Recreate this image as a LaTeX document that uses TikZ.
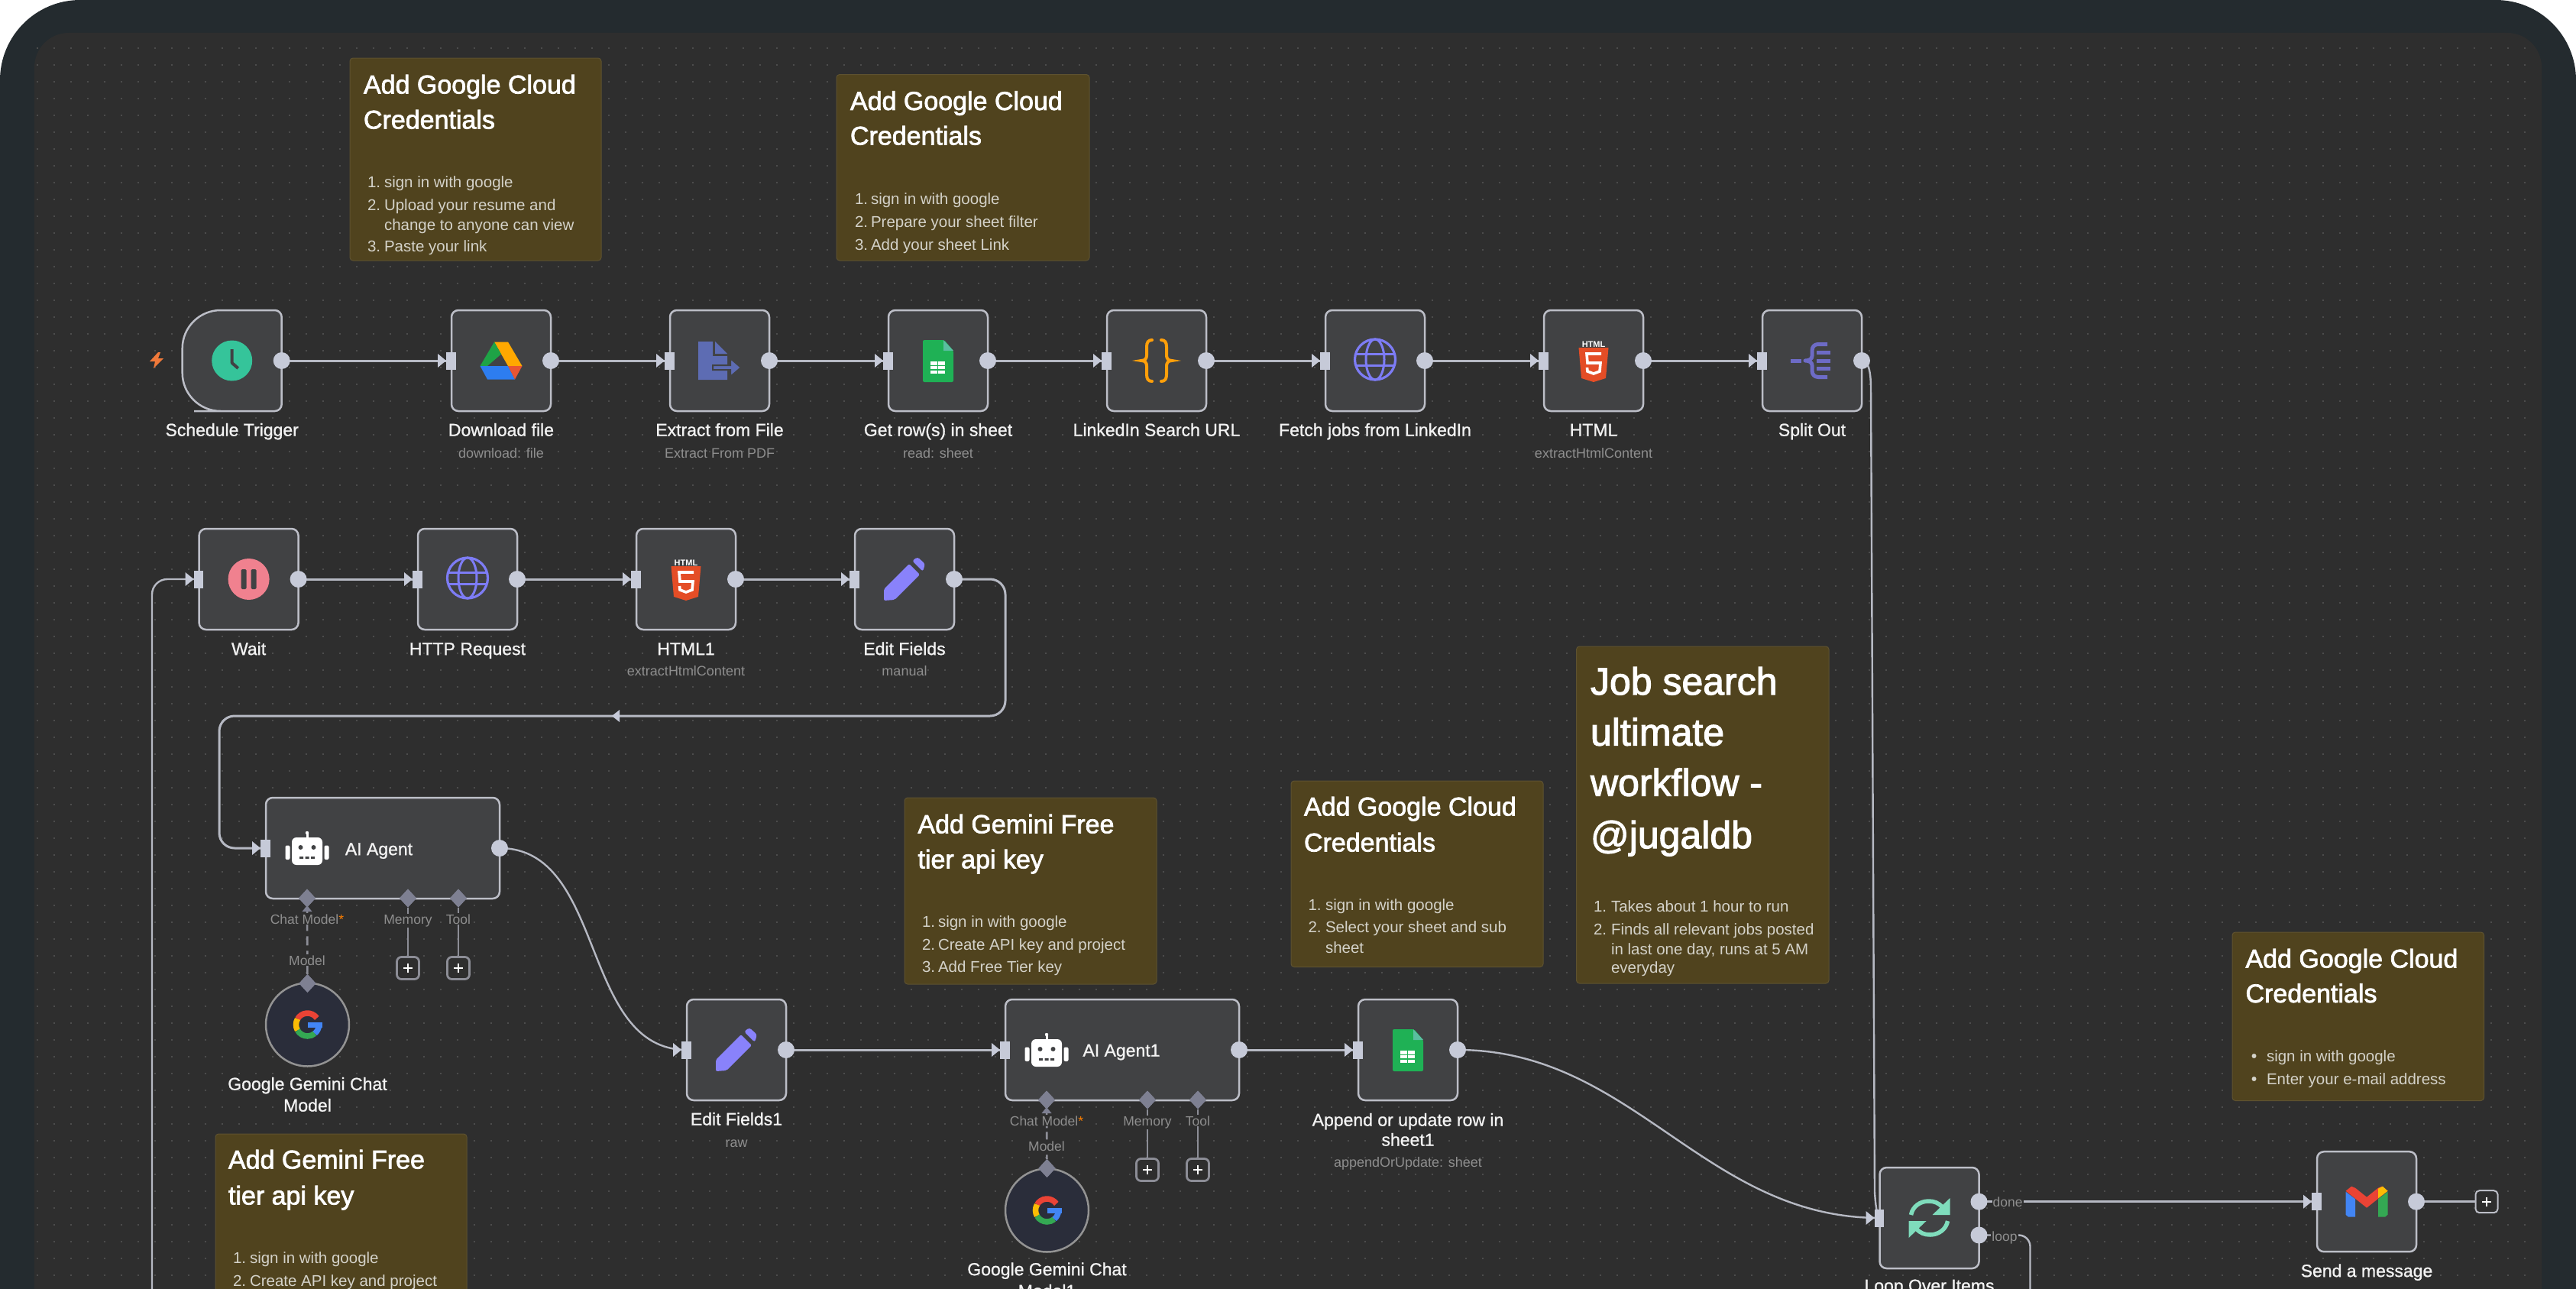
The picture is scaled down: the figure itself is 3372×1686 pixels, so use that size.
\documentclass[tikz,border=0pt]{standalone}
\usepackage{fontspec}
\setmainfont{Liberation Sans}
\newfontfamily\medfont[FakeBold=2.2]{Liberation Sans}
\newfontfamily\labfont[FakeBold=1.0]{Liberation Sans}
\usetikzlibrary{calc,shapes.geometric}
\definecolor{bandc}{HTML}{242B2F}
\definecolor{canvasc}{HTML}{2E2E2E}
\definecolor{dotc}{HTML}{4C4C4C}
\definecolor{nodefillc}{HTML}{414244}
\definecolor{nodelinec}{HTML}{BCBEC7}
\definecolor{portc}{HTML}{C6CAD8}
\definecolor{connc}{HTML}{B6B9C3}
\definecolor{stickyc}{HTML}{50431E}
\definecolor{labc}{HTML}{F2F2F2}
\definecolor{subc}{HTML}{8E8E8E}
\definecolor{itemc}{HTML}{D4D2C9}
\definecolor{diac}{HTML}{7E8092}
\definecolor{sublinec}{HTML}{8C8D96}
\definecolor{globec}{HTML}{7D7CF5}
\definecolor{pencilc}{HTML}{8982FB}
\definecolor{modelc}{HTML}{2A2D3A}
\definecolor{gred}{HTML}{EA4335}
\definecolor{ggreen}{HTML}{34A853}
\definecolor{gblue}{HTML}{4285F4}
\definecolor{gyellow}{HTML}{FBBC04}
\definecolor{clockc}{RGB}{53,196,154}
\definecolor{drivey}{RGB}{255,168,0}
\definecolor{driveg}{RGB}{30,163,70}
\definecolor{driveb}{RGB}{45,125,240}
\definecolor{driver}{RGB}{233,85,50}
\definecolor{extractc}{RGB}{93,108,179}
\definecolor{sheetc}{RGB}{31,177,85}
\definecolor{foldc}{RGB}{90,190,160}
\definecolor{bracec}{RGB}{255,159,10}
\definecolor{htmlc}{RGB}{228,77,38}
\definecolor{splitc}{RGB}{109,107,198}
\definecolor{waitc}{RGB}{240,129,143}
\definecolor{loopc}{RGB}{127,220,188}
\definecolor{boltc}{RGB}{240,121,58}
\newcounter{txn}
\newcommand{\tx}[4][]{\stepcounter{txn}\node[txt,#1] (tx\arabic{txn}) at (#2,#3) {#4};}
\tikzset{
 txt/.style={inner sep=0pt,outer sep=0pt,anchor=mid},
 lab/.style={font=\labfont\fontsize{23}{27}\selectfont,text=labc,yshift=-6pt},
 sublab/.style={font=\fontsize{18}{22}\selectfont,text=subc,yshift=-4.7pt},
 ptlab/.style={font=\fontsize{17.5}{21}\selectfont,text=subc,yshift=-4.5pt,fill=canvasc,inner sep=1pt},
 stt/.style={font=\medfont\fontsize{34}{40}\selectfont,text=white,anchor=mid west,yshift=-8.8pt},
 sjob/.style={font=\medfont\fontsize{50}{56}\selectfont,text=white,anchor=mid west,yshift=-13pt},
 sti/.style={font=\fontsize{20.5}{24}\selectfont,text=itemc,anchor=mid west,yshift=-5.3pt},
 wfbox/.style={draw=nodelinec,fill=nodefillc,line width=2.5pt,rounded corners=9pt,minimum width=130pt,minimum height=132pt,inner sep=0pt,outer sep=0pt},
 wfwide/.style={wfbox,minimum width=306pt},
 ghost/.style={draw=none,fill=none,minimum width=130pt,minimum height=132pt,inner sep=0pt,outer sep=0pt},
 model/.style={circle,draw=gray!85,fill=modelc,line width=2.5pt,minimum size=109pt,inner sep=0pt,outer sep=0pt},
 stickybox/.style={fill=stickyc,draw=stickyc!92!white,line width=1pt,rounded corners=4pt},
 conn/.style={draw=connc,line width=3pt},
 thinconn/.style={draw=connc,line width=2.4pt},
 subconn/.style={draw=sublinec,line width=2.6pt},
 dia/.style={diamond,fill=diac,minimum width=22pt,minimum height=24pt,inner sep=0pt,outer sep=0pt},
 plusbox/.style={draw=nodelinec,line width=2pt,fill=canvasc,rounded corners=5pt,minimum size=29pt,inner sep=0pt,outer sep=0pt},
 subplus/.style={plusbox,draw=sublinec,line width=2.8pt,rounded corners=6pt},
 port/.style={fill=portc},
}
\newcommand{\sticky}[4]{\fill[stickybox] (#1,#2) rectangle (#3,#4);}
\newcommand{\plusmark}[1]{\draw[white,line width=2pt] ($(#1)+(-6,0)$) -- +(12,0) ($(#1)+(0,-6)$) -- +(0,12);}
\newcommand{\icClock}[2]{\begin{scope}[shift={(#1,#2)}]\fill[clockc] circle[radius=26.5];\draw[nodefillc,line width=4pt,line join=round] (0,-15) -- (0,3) -- (8,10);\end{scope}}
\newcommand{\icDrive}[2]{\begin{scope}[shift={(#1,#2)}]
 \fill[drivey] (-9,-24.5) -- (9,-24.5) -- (27.5,7) -- (9,7) -- cycle;
 \fill[driveg] (-9,-24.5) -- (0,-8.5) -- (-18,7) -- (-27.5,7) -- cycle;
 \fill[driveb] (-27.5,7) -- (9,7) -- (18,24.5) -- (-18,24.5) -- cycle;
 \fill[driver] (9,7) -- (27.5,7) -- (18,24.5) -- cycle;
 \end{scope}}
\newcommand{\icExtract}[2]{\begin{scope}[shift={(#1,#2)}]
 \fill[extractc] (-28,-25) -- (-9,-25) -- (-9,-6) -- (10,-6) -- (10,25) -- (-28,25) -- cycle;
 \fill[extractc] (-6,-25) -- (10,-9) -- (-6,-9) -- cycle;
 \draw[fill=extractc,draw=nodefillc,line width=2pt] (-9,6) -- (14,6) -- (14,-3) -- (28,9) -- (14,21) -- (14,12) -- (-9,12) -- cycle;
 \end{scope}}
\newcommand{\icSheet}[2]{\begin{scope}[shift={(#1,#2)}]
 \fill[sheetc,rounded corners=2pt] (-20,-27) -- (8,-27) -- (20,-13) -- (20,28) -- (-20,28) -- cycle;
 \fill[foldc] (7,-27) -- (20,-13) -- (7,-13) -- cycle;
 \fill[white] (-10,1) rectangle (9,17);
 \draw[sheetc,line width=1.6pt] (-0.5,1) -- (-0.5,17) (-10,6.3) -- (9,6.3) (-10,11.7) -- (9,11.7);
 \end{scope}}
\newcommand{\bracepath}{(-6,-27) .. controls (-11,-27) and (-13,-24) .. (-13,-18) -- (-13,-7) .. controls (-13,-3) and (-15,0) .. (-20,0) .. controls (-15,0) and (-13,3) .. (-13,7) -- (-13,18) .. controls (-13,24) and (-11,27) .. (-6,27)}
\newcommand{\icBraces}[2]{\begin{scope}[shift={(#1,#2)}]
 \draw[bracec,line width=4pt,line cap=round] \bracepath;
 \begin{scope}[xscale=-1]\draw[bracec,line width=4pt,line cap=round] \bracepath;\end{scope}
 \end{scope}}
\newcommand{\icGlobe}[2]{\begin{scope}[shift={(#1,#2)}]
 \draw[globec,line width=3.2pt] (0,-1.5) circle[radius=26.5];
 \draw[globec,line width=3pt] (0,-1.5) ellipse[x radius=12,y radius=26.5];
 \draw[globec,line width=3pt] (-24,-9) -- (24,-9) (-24,6) -- (24,6);
 \end{scope}}
\newcommand{\icHtml}[2]{\begin{scope}[shift={(#1,#2)}]
 \tx[font=\bfseries\fontsize{11}{12}\selectfont,text=white,yshift=-2.8pt]{0}{-23}{HTML}
 \fill[htmlc] (-19.5,-17) -- (19.5,-17) -- (16,23) -- (0,28) -- (-16,23) -- cycle;
 \draw[white,line width=3.6pt] (10,-9) -- (-9,-9) -- (-8,3) -- (9,3) -- (8,14) -- (0,17) -- (-8,14) -- (-8.5,9);
 \end{scope}}
\newcommand{\icSplit}[2]{\begin{scope}[shift={(#1,#2)}]
 \draw[splitc,line width=5pt,line join=round] (20,-21.5) -- (8,-21.5) .. controls (3,-21.5) and (0,-18) .. (0,-13) -- (0,-6) .. controls (0,-2) and (-4,0) .. (-9,0) .. controls (-4,0) and (0,2) .. (0,6) -- (0,13) .. controls (0,18) and (3,21.5) .. (8,21.5) -- (20,21.5);
 \draw[splitc,line width=5pt] (-28,0) -- (-14,0) (6,-10.5) -- (24,-10.5) (6,0) -- (24,0) (6,10.5) -- (24,10.5);
 \end{scope}}
\newcommand{\icWait}[2]{\begin{scope}[shift={(#1,#2)}]
 \fill[waitc] circle[radius=27];
 \fill[nodefillc,rounded corners=1.5pt] (-10,-13) rectangle (-3,13) (3,-13) rectangle (10,13);
 \end{scope}}
\newcommand{\icPencil}[2]{\begin{scope}[shift={(#1,#2)}]
 \fill[pencilc,rounded corners=2pt] (-27,13) -- (6,-20) -- (20,-6) -- (-13,27) -- (-27,28) -- cycle;
 \fill[pencilc,rounded corners=3pt] (10,-24) -- (17,-29) -- (27,-20) -- (24,-10) -- cycle;
 \end{scope}}
\newcommand{\icRobot}[2]{\begin{scope}[shift={(#1,#2)}]
 \fill[white,rounded corners=6pt] (-20,-14) rectangle (20,22);
 \fill[white] (-1.5,-20) rectangle (1.5,-13);
 \fill[white] (0,-20) circle[radius=2.2];
 \fill[white,rounded corners=2pt] (-28.5,-3.5) rectangle (-22.5,15) (22.5,-3.5) rectangle (28.5,15);
 \fill[nodefillc] (-8.5,-1) circle[radius=3] (8.5,-1) circle[radius=3];
 \fill[nodefillc] (-10,11) rectangle (-5,14) (-2.5,11) rectangle (2.5,14) (5,11) rectangle (10,14);
 \end{scope}}
\newcommand{\icG}[2]{\begin{scope}[shift={(#1,#2)}]
 \draw[gred,line width=7.5pt] (-35:15) arc[start angle=-35,end angle=-150,radius=15];
 \draw[gyellow,line width=7.5pt] (-150:15) arc[start angle=-150,end angle=-210,radius=15];
 \draw[ggreen,line width=7.5pt] (150:15) arc[start angle=150,end angle=50,radius=15];
 \draw[gblue,line width=7.5pt] (50:15) arc[start angle=50,end angle=5,radius=15];
 \fill[gblue] (0,-3) rectangle (19,4);
 \end{scope}}
\newcommand{\icLoop}[2]{\begin{scope}[shift={(#1,#2)}]
 \foreach \r in {0,180}{\begin{scope}[rotate=\r]
 \draw[loopc,line width=5.5pt] (-24,-4) .. controls (-22,-15) and (-12,-22) .. (-1,-22) .. controls (6,-22) and (12,-20) .. (17,-14);
 \fill[loopc] (27,-26) -- (27,-4) -- (4,-4) -- cycle;
 \end{scope}}
 \end{scope}}
\newcommand{\icGmail}[2]{\begin{scope}[shift={(#1,#2)}]
 \fill[gred] (-27.5,-14) -- (-20,-20) -- (-15,-18) -- (0,-6) -- (15,-18) -- (20,-20) -- (27.5,-14) -- (0,8) -- cycle;
 \fill[gblue] (-27.5,-13) -- (-15,-3.5) -- (-15,20) -- (-24,20) -- (-27.5,17) -- cycle;
 \fill[ggreen] (27.5,-13) -- (15,-3.5) -- (15,20) -- (24,20) -- (27.5,17) -- cycle;
 \fill[gyellow] (15,-17) -- (21,-20) -- (27.5,-14) -- (15,-4.5) -- cycle;
 \end{scope}}
\begin{document}
\begin{tikzpicture}[x=1pt,y=-1pt]
\useasboundingbox (0,0) rectangle (3372,1686);
\clip (0,0) rectangle (3372,1686);
\fill[white] (0,0) rectangle (3372,1686);
\fill[bandc,rounded corners=105pt] (0,1900) -- (0,0) -- (3372,0) -- (3372,1900) -- cycle;
\fill[canvasc,rounded corners=45pt] (45,1900) -- (45,43) -- (3327,43) -- (3327,1900) -- cycle;
\foreach \k in {0,...,73}{
 \draw[dotc,line width=2.4pt,dash pattern=on 2.4pt off 19.6pt] (47.5,63+22*\k) -- (3322,63+22*\k);
}
% sticky notes
\sticky{458}{76}{787}{341}
\tx[stt]{476}{111}{Add Google Cloud}
\tx[stt]{476}{157}{Credentials}
\tx[sti]{481}{238}{1.}\tx[sti]{503}{238}{sign in with google}
\tx[sti]{481}{268}{2.}\tx[sti]{503}{268}{Upload your resume and}
\tx[sti]{503}{294}{change to anyone can view}
\tx[sti]{481}{321.5}{3.}\tx[sti]{503}{321.5}{Paste your link}
\sticky{1095}{97.5}{1426}{341}
\tx[stt]{1113}{132.5}{Add Google Cloud}
\tx[stt]{1113}{178}{Credentials}
\tx[sti]{1119}{260}{1.}\tx[sti]{1140}{260}{sign in with google}
\tx[sti]{1119}{289.5}{2.}\tx[sti]{1140}{289.5}{Prepare your sheet filter}
\tx[sti]{1119}{319.5}{3.}\tx[sti]{1140}{319.5}{Add your sheet Link}
\sticky{1184}{1044}{1514}{1288}
\tx[stt]{1201.5}{1079}{Add Gemini Free}
\tx[stt]{1201.5}{1125}{tier api key}
\tx[sti]{1207}{1206}{1.}\tx[sti]{1228}{1206}{sign in with google}
\tx[sti]{1207}{1236}{2.}\tx[sti]{1228}{1236}{Create API key and project}
\tx[sti]{1207}{1265}{3.}\tx[sti]{1228}{1265}{Add Free Tier key}
\sticky{1690}{1022}{2020}{1265.5}
\tx[stt]{1707}{1056}{Add Google Cloud}
\tx[stt]{1707}{1103}{Credentials}
\tx[sti]{1712.5}{1183.5}{1.}\tx[sti]{1735}{1183.5}{sign in with google}
\tx[sti]{1712.5}{1213}{2.}\tx[sti]{1735}{1213}{Select your sheet and sub}
\tx[sti]{1735}{1240}{sheet}
\sticky{2063.5}{846}{2394}{1287}
\tx[sjob]{2082}{893.5}{Job search}
\tx[sjob]{2082}{960}{ultimate}
\tx[sjob]{2082}{1026}{workflow -}
\tx[sjob]{2082}{1094.5}{@jugaldb}
\tx[sti]{2086}{1186}{1.}\tx[sti]{2109}{1186}{Takes about 1 hour to run}
\tx[sti]{2086}{1215.5}{2.}\tx[sti]{2109}{1215.5}{Finds all relevant jobs posted}
\tx[sti]{2109}{1241.5}{in last one day, runs at 5 AM}
\tx[sti]{2109}{1266}{everyday}
\sticky{2922}{1220}{3251.5}{1440.5}
\tx[stt]{2939.5}{1255}{Add Google Cloud}
\tx[stt]{2939.5}{1300.5}{Credentials}
\fill[itemc] (2950.5,1382) circle[radius=3] (2950.5,1412) circle[radius=3];
\tx[sti]{2967}{1382}{sign in with google}
\tx[sti]{2967}{1412}{Enter your e-mail address}
\sticky{282}{1484}{611}{1720}
\tx[stt]{299}{1518}{Add Gemini Free}
\tx[stt]{299}{1565}{tier api key}
\tx[sti]{305}{1646}{1.}\tx[sti]{327}{1646}{sign in with google}
\tx[sti]{305}{1676}{2.}\tx[sti]{327}{1676}{Create API key and project}
% trigger outline
\draw[draw=nodelinec,fill=nodefillc,line width=2.5pt] [rounded corners=50pt] (304,406) -- (238.7,406) -- (238.7,538) -- (304,538) [rounded corners=9pt] -- (368.7,538) -- (368.7,406) -- cycle;
% nodes
\node[ghost] (trig) at (303.7,472) {};
\node[wfbox] (dl) at (656,472) {};
\node[wfbox] (ext) at (942,472) {};
\node[wfbox] (rows) at (1228,472) {};
\node[wfbox] (lnk) at (1514,472) {};
\node[wfbox] (fetch) at (1800,472) {};
\node[wfbox] (html) at (2086,472) {};
\node[wfbox] (split) at (2372,472) {};
\node[wfbox] (wait) at (325.6,758) {};
\node[wfbox] (http) at (612,758) {};
\node[wfbox] (htmlb) at (898,758) {};
\node[wfbox] (edit) at (1184,758) {};
\node[wfwide] (agent) at (501,1110) {};
\node[wfbox] (efb) at (964,1374) {};
\node[wfwide] (agentb) at (1469,1374) {};
\node[wfbox] (sheetb) at (1843,1374) {};
\node[wfbox] (loopn) at (2525.5,1594) {};
\node[wfbox,minimum height=131pt] (send) at (3098,1572.7) {};
\node[plusbox] (plsend) at (3255,1572.7) {};
% free ends and way points
\coordinate (wa) at (1316,937);
\coordinate (wb) at (287,937);
\coordinate (lbot) at (199,1720);
\coordinate (lpb) at (2657.5,1720);
\coordinate (sa) at (2449,510);
\coordinate (sb) at (2454,1560);
\coordinate (pdone) at ($(loopn.east)+(0,-21.3)$);
\coordinate (ploop) at ($(loopn.east)+(0,22.5)$);
% connectors
\foreach \a/\b in {trig/dl,dl/ext,ext/rows,rows/lnk,lnk/fetch,fetch/html,html/split,wait/http,http/htmlb,htmlb/edit,efb/agentb,agentb/sheetb,pdone/send,send/plsend}{
 \draw[conn] (\a.east) -- (\b.west);
}
\draw[conn,rounded corners=20pt] (edit.east) -| (wa) -- (wb) |- (agent.west);
\fill[port] (801,937) -- (811,929) -- (811,945) -- cycle;
\draw[thinconn,rounded corners=20pt] (lbot) |- (wait.west);
\draw[thinconn] (agent.east) .. controls +(140,0) and +(-140,0) .. (efb.west);
\draw[thinconn] (sheetb.east) .. controls +(230,0) and +(-230,0) .. (loopn.west);
\draw[thinconn] (split.east) .. controls +(10,0) and +(0,-20) .. (sa) -- (sb) .. controls +(1,18) and +(-3,0) .. (loopn.west);
\draw[thinconn,rounded corners=15pt] (ploop) -| (lpb);
% ports
\foreach \n in {dl,ext,rows,lnk,fetch,html,split,wait,http,htmlb,edit,agent,efb,agentb,sheetb,loopn,send}{
 \fill[port] ($(\n.west)+(-7,-11.5)$) rectangle +(12.5,23);
 \fill[port] ($(\n.west)+(-18,-9)$) -- ($(\n.west)+(-7,0)$) -- ($(\n.west)+(-18,9)$) -- cycle;
}
\foreach \n in {trig,dl,ext,rows,lnk,fetch,html,split,wait,http,htmlb,edit,agent,efb,agentb,sheetb,send}{
 \fill[port] (\n.east) circle[radius=11];
}
\fill[port] (pdone) circle[radius=11];
\fill[port] (ploop) circle[radius=11];
\plusmark{plsend}
% sub-nodes of the agents
\node[model] (gema) at (402.5,1341) {};
\node[model] (gemb) at (1370.5,1584) {};
\node[dia] (da) at (402,1175.5) {};
\node[dia] (db) at (534,1175.5) {};
\node[dia] (dc) at (600,1175.5) {};
\node[dia] (dd) at (402.5,1287) {};
\node[subplus] (pa) at (534,1267) {};
\node[subplus] (pb) at (600,1267) {};
\draw[subconn,dash pattern=on 12pt off 7pt] (da) -- (dd);
\draw[subconn] (db) -- (pa);
\draw[subconn] (dc) -- (pb);
\plusmark{pa}\plusmark{pb}
\node[dia] (de) at (1370,1439.5) {};
\node[dia] (df) at (1502,1439.5) {};
\node[dia] (dg) at (1568,1439.5) {};
\node[dia] (dh) at (1370.5,1529) {};
\node[subplus] (pc) at (1502,1531) {};
\node[subplus] (pd) at (1568,1531) {};
\draw[subconn,dash pattern=on 10pt off 5pt] (de) -- (dh);
\draw[subconn] (df) -- (pc);
\draw[subconn] (dg) -- (pd);
\plusmark{pc}\plusmark{pd}
\foreach \n in {da,db,dc,dd,de,df,dg,dh}{\node[dia] at (\n) {};}
\fill[diac] (402,1185) -- (408.5,1193) -- (395.5,1193) -- cycle;
\fill[diac] (1370,1449) -- (1376.5,1457) -- (1363.5,1457) -- cycle;
\tx[ptlab]{402}{1202}{Chat Model\textcolor{orange}{*}}
\tx[ptlab]{534}{1202}{Memory}
\tx[ptlab]{600}{1202}{Tool}
\tx[ptlab]{402}{1256}{Model}
\tx[ptlab]{1370}{1466}{Chat Model\textcolor{orange}{*}}
\tx[ptlab]{1502}{1466}{Memory}
\tx[ptlab]{1568}{1466}{Tool}
\tx[ptlab]{1370}{1499}{Model}
\tx[ptlab]{2628}{1572.7}{done}
\tx[ptlab]{2624}{1617}{loop}
% node labels
\tx[lab]{303.7}{562}{Schedule Trigger}
\tx[lab]{656}{562}{Download file}\tx[sublab]{656}{592}{download: file}
\tx[lab]{942}{562}{Extract from File}\tx[sublab]{942}{592}{Extract From PDF}
\tx[lab]{1228}{562}{Get row(s) in sheet}\tx[sublab]{1228}{592}{read: sheet}
\tx[lab]{1514}{562}{LinkedIn Search URL}
\tx[lab]{1800}{562}{Fetch jobs from LinkedIn}
\tx[lab]{2086}{562}{HTML}\tx[sublab]{2086}{592}{extractHtmlContent}
\tx[lab]{2372}{562}{Split Out}
\tx[lab]{325.6}{848.5}{Wait}
\tx[lab]{612}{848.5}{HTTP Request}
\tx[lab]{898}{848.5}{HTML1}\tx[sublab]{898}{877.5}{extractHtmlContent}
\tx[lab]{1184}{848.5}{Edit Fields}\tx[sublab]{1184}{877.5}{manual}
\tx[lab]{496}{1110.5}{AI Agent}
\tx[lab]{1468}{1374}{AI Agent1}
\tx[lab]{402.5}{1418}{Google Gemini Chat}
\tx[lab]{402.5}{1446}{Model}
\tx[lab]{964}{1464}{Edit Fields1}\tx[sublab]{964}{1494}{raw}
\tx[lab]{1843}{1465}{Append or update row in}
\tx[lab]{1843}{1491}{sheet1}
\tx[sublab]{1843}{1520}{appendOrUpdate: sheet}
\tx[lab]{1370.5}{1660.5}{Google Gemini Chat}
\tx[lab]{1370.5}{1689}{Model1}
\tx[lab]{2525.5}{1682}{Loop Over Items}
\tx[lab]{3098}{1662.5}{Send a message}
% icons
\fill[boltc] (207,461) -- (196,473) -- (203,473) -- (201,482) -- (214,469) -- (207,469) -- (210,461) -- cycle;
\icClock{303.7}{472}
\icDrive{656}{472}
\icExtract{942}{472}
\icSheet{1228}{472}
\icBraces{1514}{472}
\icGlobe{1800}{472}
\icHtml{2086}{472}
\icSplit{2372}{472}
\icWait{325.6}{758}
\icGlobe{612}{758}
\icHtml{898}{758}
\icPencil{1184}{758}
\icRobot{402}{1110}
\icPencil{964}{1374}
\icRobot{1370}{1374}
\icSheet{1843}{1374}
\icG{402.5}{1341}
\icG{1370.5}{1584}
\icLoop{2525.5}{1594}
\icGmail{3098}{1572.7}
\end{tikzpicture}
\end{document}
